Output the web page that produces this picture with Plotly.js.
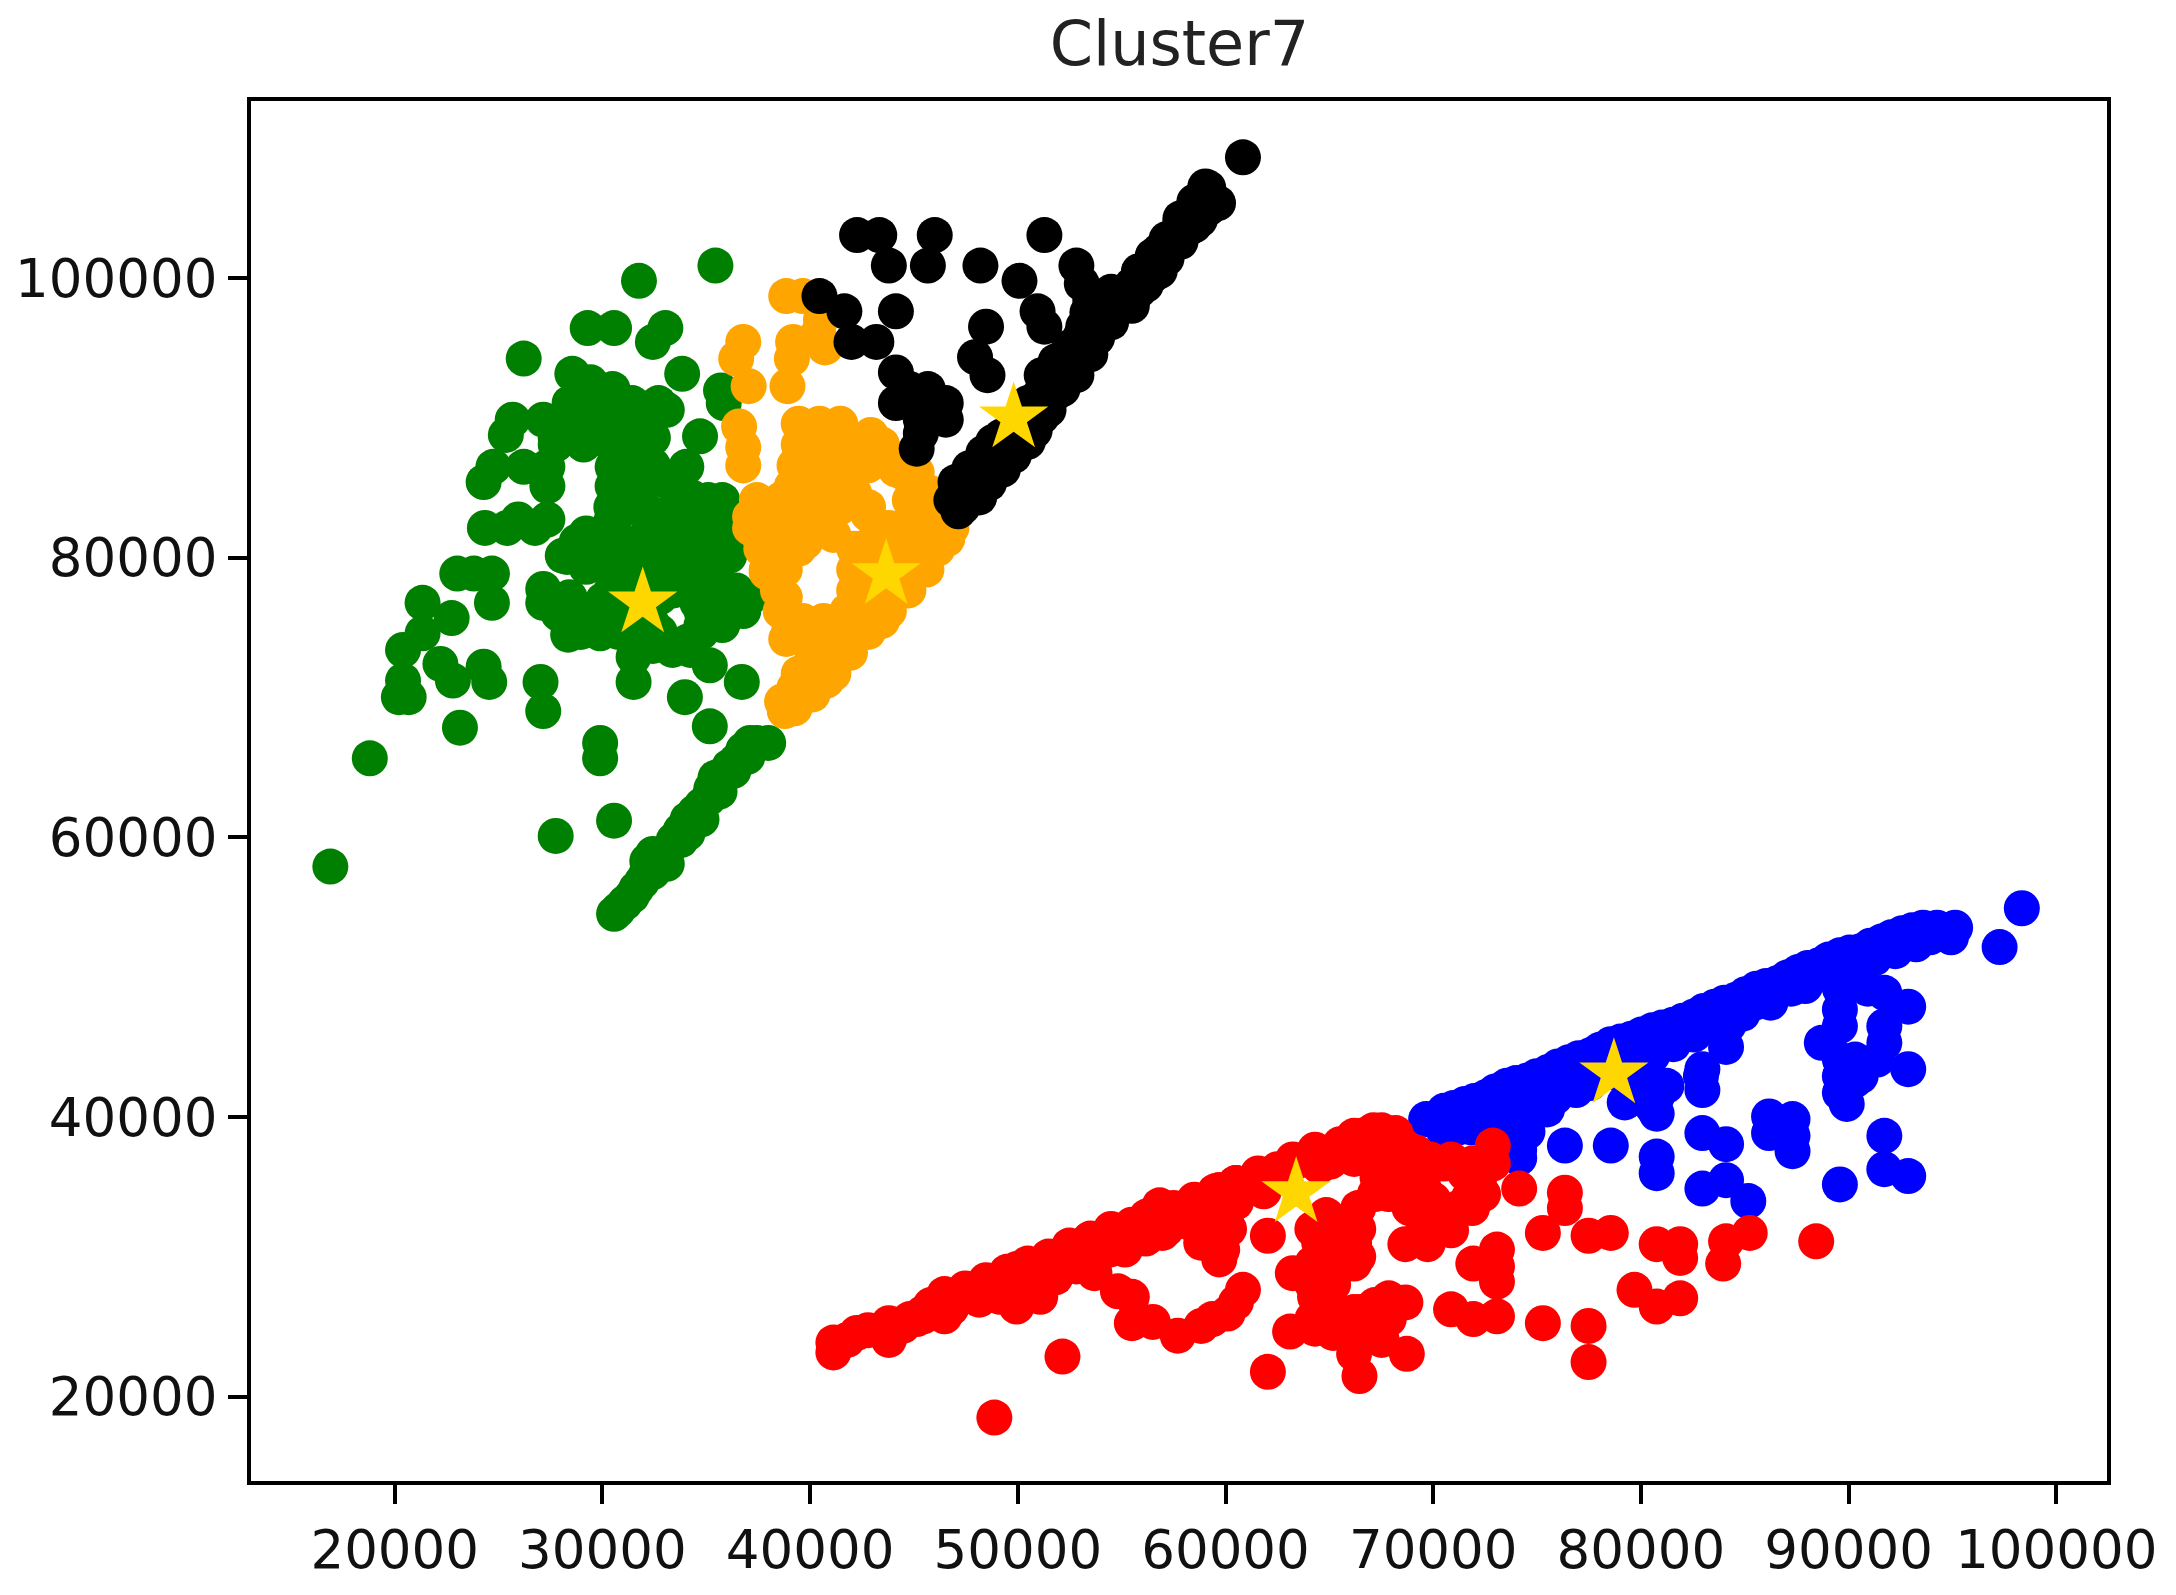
<!DOCTYPE html>
<html><head><meta charset="utf-8">
<script src="https://cdn.plot.ly/plotly-3.0.1.min.js"></script>
<style>html,body{margin:0;padding:0;background:#fff}</style></head>
<body><div id="chart" style="width:2176px;height:1595px"></div>
<script>
const chartTitle = "Cluster7";
const xTicks = [20000,30000,40000,50000,60000,70000,80000,90000,100000];
const yTicks = [20000,40000,60000,80000,100000];

const greenX = [16900,18800,23140,27150,27020,27750,30560,29890,29890,33970,35170,36710,31500,31500,35440,31760,29290,30560,33030,32430,26210,28550,30490,33840,32700,35710,35840,34700,25680,25350,27150,28420,29760,31160,31960,24280,24750,26210,27350,27350,32100,30490,30490,34040,33570,34300,24340,25950,27350,23010,23810,24680,24680,21340,22740,21340,20400,20400,20200,20670,22200,22800,24280,24550,27150,27150,28350,29890,28620,28290,29220,29220,30560,31630,32970,34240,33770,35970,36440,35510,34570,34570,34240,33370,35170,30030,28290,29090,30430,31100,32430,31430,35100,35770,34440,33100,31760,35440,37110,30430,32430,35770,34770,27750,30560,31090,31630,32100,32160,33100,32430,33770,34440,35100,35440,36110,36780,37980,37110,
27750,29090,30430,31760,29420,29760,28420,31430,31100,31430,32430,33430,30760,30430,25410,26750,29420,30560,31760,32970,34100,34100,35100,33570,31100,32100,33100,34100,35100,30960,33430,34770,36110,28960,30760,32430,34100,35770,27890,28420,
30760,31430,31900,32430,32970,33430,34100,34770,35240,35770,36440,37440,33770,34440,
32430,32430,33100,31760,30760,32760,30430,30090,28760,28090,32760,33770,34770,35770,35100,36110,32760,33770,31760,32760,34440,35440,36440,36780,35440,34770,30430,29420,30090,31100,32100,32760,33770,
36310,35640,36980,34770,34100];
const greenY = [57910,65650,67840,69030,71110,60100,61190,66750,65650,70020,67940,71110,71110,72900,100890,99800,96420,96420,96420,95430,94240,93150,92060,93150,91060,91960,91060,88680,89870,88780,89870,89870,89870,89870,88680,85410,86500,86500,86500,85110,85410,86500,85110,86500,85110,84310,82130,82730,82730,78860,78860,78860,76770,76770,75680,74590,73400,71210,70020,70020,72400,71210,72200,71110,77760,76770,74490,74590,75780,80050,81730,79350,82730,80540,80050,79350,82730,81040,76770,75780,76770,78360,73400,73400,72300,76970,76970,88090,88090,87090,83120,83620,84120,84120,81630,81630,78660,79150,77170,79150,75180,77660,75180,88090,54530,55330,56320,57320,58310,58110,58810,59800,61290,62770,64260,65060,66250,66750,66750,
88580,88580,88580,88580,92550,91060,91060,91060,87590,86600,86600,85110,84610,83620,82130,82130,81630,81140,81140,81340,83620,81630,83620,83620,79150,79150,78660,78660,78160,77660,77660,76180,76180,74690,74690,73690,74000,75180,75980,77170,
54830,55830,56820,57520,58810,59800,61290,62280,63470,64460,65460,66750,60490,61780,
88580,90070,90570,85610,85610,85610,82630,80640,81140,80140,82630,82630,82630,82330,80640,80140,80140,80140,77660,77170,78160,77660,77660,76180,76180,74690,77660,76180,75680,75680,75180,74690,73690,
64760,63270,65760,61290,60290];

const orangeX = [38850,39650,40390,40720,40520,36780,36440,39180,39120,37040,38910,36780,36780,36580,
39450,40450,41450,42920,39450,40450,41450,42460,43460,39250,40120,41120,39120,40120,41120,41920,37780,38780,39780,40790,41450,42790,37110,38110,39120,40120,41120,43130,45130,45460,46130,46800,45130,44130,37650,38580,39250,42120,43130,45130,46130,37910,38780,42120,43130,44130,45130,45600,38450,42120,43130,44130,44730,38580,43790,42790,41790,39650,40650,41650,38980,40120,41120,42120,42790,40120,41120,41920,39450,40450,41120,39250,40120,38650,39250,38780,37110,37440,38650,37510,37910,38850,
44460,45130,44800,45800,46470,44800,45460,44460,43790,42790,42120,43790,44600,45930,46600,42790,44130,41790,42460,43460,44460,42460,43130,43460,42460,41790,41450,40790,40120,40790,38450,39450,39780,38780,38110,39450,40450];
const orangeY = [98710,98710,96030,95030,97020,95430,94240,95430,94240,92260,92260,86600,87890,89380,
89580,89580,89580,88780,88090,88090,88090,88090,88090,86600,86600,86600,85110,85110,85110,85110,83620,83620,83620,83620,83620,83620,82130,82130,82130,82130,81630,81340,85610,84120,82930,82130,81630,80640,80640,80640,80640,80640,80640,80640,80640,79150,79150,79150,79150,79150,79150,79150,77660,77660,77660,77660,77660,76180,76180,76180,76180,75480,75480,75480,74690,74690,74690,74690,74690,73200,73200,73200,71710,71710,71710,70720,70720,69720,69230,69030,82930,84120,84210,81630,78950,74190,
86100,86100,84120,84610,83120,82630,82930,81630,82130,83120,84610,80640,79950,80640,81340,86600,86300,86300,80640,78960,78660,76180,76180,75480,74690,74190,73200,72210,70220,71210,79150,80640,81140,77170,83620,84610,86100];

const blackX = [60840,59030,59640,57830,58770,51280,42260,43330,46000,43790,45670,48200,50080,52820,53080,40450,41650,44130,41990,43190,48470,50950,51280,47940,48540,44130,45670,44130,46530,46530,45330,45130,46800,47140,47600,47800,48340,48810,49480,50140,50810,51480,52150,52820,53490,53820,54490,55490,56160,56830,57500,58160,51150,51820,52480,53150,53820,54490,55830,56500,50480,47800,
47340,48140,48610,49280,49810,50480,48000,48810,49480,51150,51810,52480,53150,53820,54490,55160,55830,56500,57160,57830,58500,59170,50810,51480,52150,52820,53490,54160,54820,55490,56160,56830,57500,58160,58500,59170,53350,53490,45000,45870,45730,45330,44800,
47000,47670,48340,48810,49210,47800,48470,49140,49810,48610,48000,49280,51010,51680,52350,53020,57160,57830,56500,58630];
const blackY = [108630,106550,105360,104270,104170,103070,103070,103070,103070,100890,100890,100890,99800,100890,99600,98710,97620,97620,95430,95430,96520,97620,96520,94340,93050,93250,92060,91060,91060,89870,89870,87790,84120,83320,84120,85110,85610,86600,87590,88580,89080,90570,92060,93050,94540,96030,97520,98010,99500,100490,102480,103470,93050,94040,95030,96520,98010,99010,100490,101490,91060,86100,
83620,84310,85310,86300,87290,88280,86100,87090,88280,90070,91760,93050,94440,95730,96820,98010,99100,100200,101390,102580,103770,104960,90570,92060,93550,95030,96520,97810,98810,99500,100490,101980,102980,104460,105460,106450,97520,98410,91060,91060,89870,88880,92060,
85410,86400,87490,88280,88680,85310,86300,87290,88480,86100,84910,86990,91560,92850,94240,95830,102780,103970,101590,105160];

const blueX = [98340,97270,69660,70530,71530,72540,73540,74540,75540,76540,77550,78550,79550,80550,81560,82560,83560,84570,85570,86570,87570,88580,89580,90580,91580,92590,93590,94260,95130,94930,93250,70530,71870,72870,73870,75210,76540,77880,79890,74140,74140,73270,71730,75480,76340,78550,80350,80550,80760,79220,82960,82960,84100,80760,80760,82960,84100,82960,84100,85170,86170,86170,87300,87300,87300,89580,91720,91720,92870,89580,90310,89580,88710,89580,89580,89580,91720,91720,91720,92870,92870,91380,90310,81490,83490,85490,87240,89250,91250,
70980,71980,72990,73990,74990,76010,77010,78020,79020,80020,81020,82030,83030,84030,85040,86040,87040,88040,89040,90050,91050,92050,93060,
71200,72540,73540,74540,75880,76880,74540,73540,77550,78550,79550,80550,81560,82560,84230,84900,86240,87910,89910,92250,93920,71870,74540,76540,78550,
90580,89910,90920,89580,81230,80760,79550,82890];
const blueY = [54930,52150,39850,40440,40940,41430,42230,42620,43220,43920,44410,45210,45600,46200,46600,47190,47890,48380,49180,49570,50370,50860,51560,51860,52550,53150,53540,53540,53540,52850,52350,38950,39250,39950,40440,41430,42430,42920,43420,37060,37660,38850,39350,40540,37960,37960,42230,40740,40240,41040,43420,41930,45010,37170,35980,38850,38060,34880,35480,33990,40040,38850,39850,38660,37560,35180,38660,36270,35780,41730,42620,42920,45310,44110,46500,47690,46500,45310,48880,47890,43420,44110,44110,45400,46900,48180,49180,50370,51360,
40640,41140,41830,42430,42920,43620,44210,44810,45400,45900,46400,46890,47590,48180,48780,49370,49970,50660,51260,51760,52250,52850,53350,
39250,39650,39950,40640,41430,41930,38950,38460,42430,43220,43920,44410,45210,45900,46600,47390,48180,49370,50570,51860,52850,40440,41630,43220,44210,
42920,40940,49180,49180,42230,41430,41930,42920];

const redX = [41120,41120,42250,43330,44460,46470,45400,46870,47940,49940,51080,49940,51410,53290,54420,55490,53690,55490,55490,57700,58830,60100,60840,59700,58830,57700,58830,59700,61570,63240,64310,66190,67120,56960,56220,52150,48870,62040,62040,66450,63110,64310,66520,63240,64310,65250,65250,66190,67190,67520,68190,70200,71870,72540,72670,68530,67860,69190,64850,64510,66190,66190,65180,65520,66520,67520,66520,67190,68660,68730,74140,76340,76340,75280,77480,78550,80760,81890,81890,84100,85240,83960,88440,79690,80760,81890,73070,73070,73070,71930,70860,71930,73070,75280,77480,77480,68660,69730,70860,70200,70000,71730,54490,56830,60500,62840,64510,65520,67860,72870,43790,45130,48810,64180,64850,67860,68860,
41790,42790,43790,44800,45800,46470,47470,48470,49480,50480,51480,52480,53490,54490,55490,56500,57500,58500,59500,60500,61510,62510,63510,64510,65520,66520,
43790,45460,46800,48140,49140,50480,51810,52820,53820,55160,56160,57160,58160,59170,60500,61840,
66860,67860,69860,70860,72870,72200,67190,66190,65050,67860,69190,70530,
64180,65180,64180,66390,66390,66390,64850,64180,66190,65180,64180,66860,67520,65180,66190,67860,67860,69530,70530,69860,71200,71870,
54820,56500,59370,60500,59170,60170,59840,56500,
68530,69190,71530,68190,67320,69530,69190,72400];
const redY = [23170,23870,24560,24760,25060,25750,25950,27140,27640,26450,27140,29130,29520,31010,30520,32200,28830,27140,25260,24360,25060,25950,27640,29820,31010,32900,33890,34780,35970,36970,37660,38660,39050,31710,32900,22870,18510,31510,21780,21480,24660,24860,24760,28830,27140,29820,31710,32900,34490,39050,38850,36670,36670,36470,36870,36970,35970,36470,32990,31010,31010,29520,28030,25550,26050,24060,24060,26550,26740,23070,34880,34590,33490,31710,31510,31710,30910,30910,29920,31110,31710,29520,31110,27640,26450,27040,30520,29320,28230,29520,26250,25550,25750,25260,25060,22480,30910,30910,31900,32700,34090,34290,32000,33690,35280,35970,36470,37660,37660,37960,24060,25550,27540,29020,26550,34490,33490,
24060,24760,25260,25550,26550,27340,27740,28330,28930,29520,30020,30810,31310,31710,32300,32800,33490,34090,34690,35280,35780,36270,36870,37460,38060,38660,
24560,25750,26350,26940,27140,28030,28530,29320,30020,30520,31310,32000,32500,33000,33890,34690,
37960,36970,36970,36970,36670,35480,36970,37000,36810,35480,35280,36670,
29520,29520,28030,30020,32000,33490,32500,32000,26050,26050,25550,25550,25060,24560,23070,25550,27040,32000,32500,33490,33490,33490,
27540,25350,25550,26740,32500,32000,30510,32000,
37960,37460,35970,35970,35670,34980,33990,34480];

const centerX = [31940,43660,49800,63400,78700];
const centerY = [76770,78800,90000,34600,43100];

const seriesColors = ["#008000","#ffa500","#000000","#0000ff","#ff0000"];
const seriesX = [greenX,orangeX,blackX,blueX,redX];
const seriesY = [greenY,orangeY,blackY,blueY,redY];

const traces = seriesColors.map((c,i)=>({
  type:"scatter",mode:"markers",x:seriesX[i],y:seriesY[i],
  marker:{color:c,size:36,line:{width:0}},hoverinfo:"skip",showlegend:false
}));
traces.push({type:"scatter",mode:"markers",x:centerX,y:centerY,
  marker:{color:"#ffd700",symbol:"star",size:52,line:{width:0}},hoverinfo:"skip",showlegend:false});

const tickFont = {family:"DejaVu Sans",size:53,color:"#111"};
const axisBase = {showgrid:false,zeroline:false,showline:true,mirror:true,linecolor:"#000",linewidth:4,
  ticks:"outside",ticklen:19,tickwidth:4,tickcolor:"#000",tickfont:tickFont,tickmode:"array"};
Plotly.newPlot("chart",traces,{
  width:2176,height:1595,
  margin:{l:251,r:69.3,t:101,b:114,pad:0},
  paper_bgcolor:"#fff",plot_bgcolor:"#fff",showlegend:false,
  title:{text:chartTitle,font:{family:"DejaVu Sans",size:62,color:"#222"},x:0.542,xanchor:"center",y:0.973,yanchor:"middle"},
  xaxis:Object.assign({},axisBase,{range:[13080,102441],tickvals:xTicks,ticktext:xTicks.map(String)}),
  yaxis:Object.assign({},axisBase,{range:[13972,112657],tickvals:yTicks,ticktext:yTicks.map(String)})
},{displayModeBar:false,staticPlot:true});
</script></body></html>
